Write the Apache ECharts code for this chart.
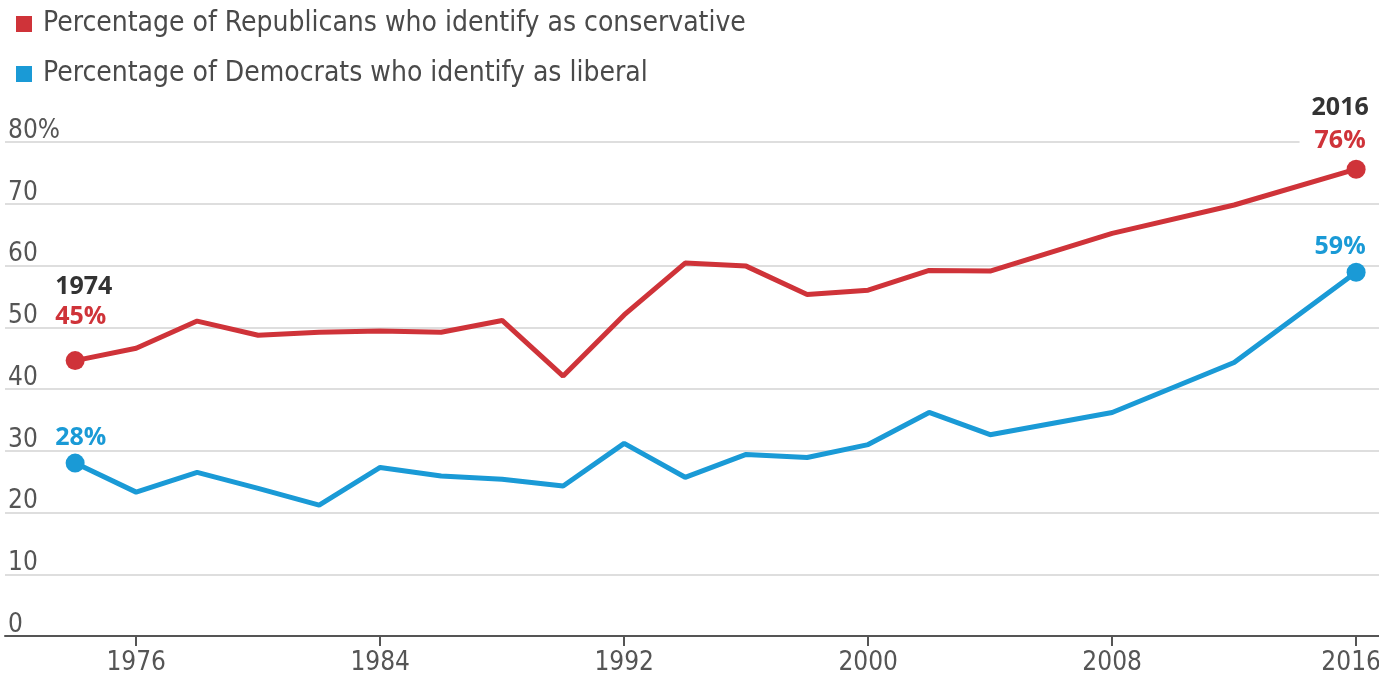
<!DOCTYPE html>
<html>
<head>
<meta charset="utf-8">
<script src="https://cdn.jsdelivr.net/npm/echarts@6/dist/echarts.min.js"></script>
<style>
html,body{margin:0;padding:0;background:#fff;}
#chart{width:1379px;height:675px;}
</style>
</head>
<body>
<div id="chart"></div>
<script>
const years = [1974,1976,1978,1980,1982,1984,1986,1988,1990,1992,1994,1996,1998,2000,2002,2004,2008,2012,2016];
const republicansConservative = [44.6,46.6,51.0,48.7,49.2,49.4,49.2,51.1,42.1,52.0,60.4,59.9,55.3,56.0,59.2,59.1,65.2,69.8,75.6];
const democratsLiberal = [28.0,23.3,26.5,23.9,21.2,27.3,25.9,25.4,24.3,31.2,25.7,29.4,28.9,31.0,36.2,32.6,36.2,44.3,58.9];
const xTickYears = [1976,1984,1992,2000,2008,2016];
const seriesNames = ['Percentage of Republicans who identify as conservative','Percentage of Democrats who identify as liberal'];

const RED = '#cf3339', BLUE = '#1a9ad6';
const NARROW = '"Liberation Sans Narrow","DejaVu Sans Condensed","Liberation Sans",sans-serif';
const BOLD = '"Open Sans","Noto Sans",sans-serif';

function pts(vals){ return years.map((y,i)=>[y, vals[i]]); }
const last = years.length - 1;

function endLabel(showYear){
  return function(p){
    const yr = years[p.dataIndex];
    const v = Math.round(p.value[1]) + '%';
    return showYear ? '{yr|' + yr + '}\n{v|' + v + '}' : '{v|' + v + '}';
  };
}
function richFor(color, lh){
  return {
    yr:{color:'#333', fontFamily:BOLD, fontWeight:'bold', fontSize:25, lineHeight:lh},
    v:{color:color, fontFamily:BOLD, fontWeight:'bold', fontSize:25, lineHeight:lh}
  };
}

function buildData(vals, color, isTop){
  return pts(vals).map((d,i)=>{
    if(i===0){
      return {value:d, symbolSize:19, label:{show:true, position:'top', distance:isTop?19:1, align:'left', offset:[-20,0],
        formatter:endLabel(isTop), rich:richFor(color,30)}};
    }
    if(i===last){
      return {value:d, symbolSize:19, label:{show:true, position:'top', distance:isTop?2:1, align:'center', offset:[-16,0],
        backgroundColor: isTop ? '#fff' : 'transparent', padding: isTop ? [0,12,0,12] : 0,
        formatter:endLabel(isTop), rich:richFor(color,isTop?33:30)}};
    }
    return {value:d, symbolSize:0};
  });
}

const chart = echarts.init(document.getElementById('chart'), null, {renderer:'canvas'});
chart.setOption({
  animation:false,
  backgroundColor:'#fff',
  legend:{
    orient:'vertical', left:11, top:3, itemWidth:16, itemHeight:16, itemGap:18, icon:'rect',
    selectedMode:false,
    textStyle:{fontFamily:NARROW, fontSize:28, color:'#4a4a4a', lineHeight:32, padding:[0,0,0,6]},
    data:seriesNames
  },
  grid:{left:5, right:0, top:142, bottom:39, containLabel:false, outerBoundsMode:'none'},
  xAxis:{
    type:'value', min:1971.7, max:2016.75,
    axisLine:{show:true, onZero:false, lineStyle:{color:'#555', width:2}},
    axisTick:{show:true, customValues:xTickYears, length:10, lineStyle:{color:'#555', width:2}},
    axisLabel:{customValues:xTickYears, margin:14, color:'#555', fontFamily:NARROW, fontSize:26,
      formatter:v => v===xTickYears[xTickYears.length-1] ? '{end|' + v + '}' : String(v),
      rich:{end:{color:'#555', fontFamily:NARROW, fontSize:26, padding:[0,10,0,0]}},
      hideOverlap:false},
    splitLine:{show:false}
  },
  yAxis:{
    type:'value', min:0, max:80, interval:10,
    axisLine:{show:false}, axisTick:{show:false},
    axisLabel:{inside:true, margin:3, verticalAlign:'bottom', lineHeight:22, color:'#555', fontFamily:NARROW, fontSize:26,
      formatter:v => v===80 ? v+'%' : String(v)},
    splitLine:{show:true, lineStyle:{color:'#dedede', width:2}}
  },
  series:[
    {name:seriesNames[0], type:'line', z:3, symbol:'circle', showSymbol:true, color:RED,
     lineStyle:{width:5, color:RED}, itemStyle:{color:RED}, data:buildData(republicansConservative, RED, true)},
    {name:seriesNames[1], type:'line', z:2, symbol:'circle', showSymbol:true, color:BLUE,
     lineStyle:{width:5, color:BLUE}, itemStyle:{color:BLUE}, data:buildData(democratsLiberal, BLUE, false)}
  ]
});
</script>
</body>
</html>
